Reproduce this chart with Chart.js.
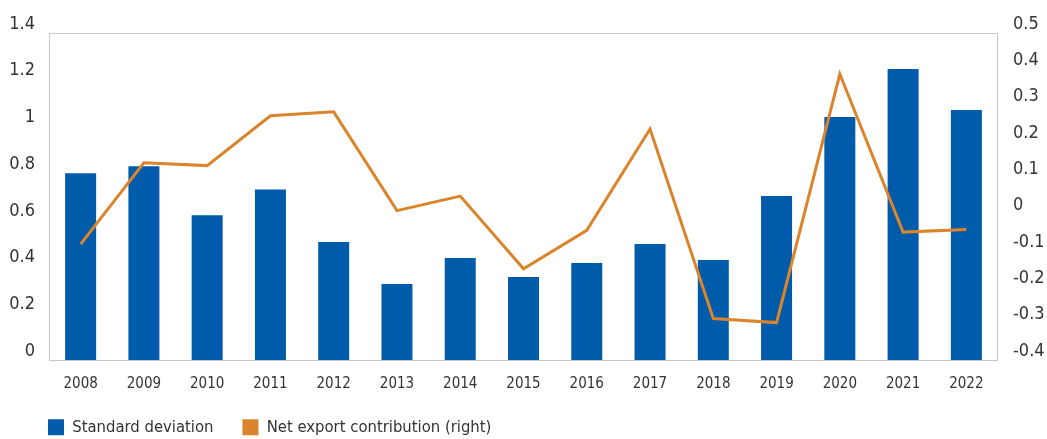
<!DOCTYPE html>
<html>
<head>
<meta charset="utf-8">
<script src="https://cdn.jsdelivr.net/npm/chart.js@4"></script>
<style>
  body { margin: 0; background: #fff; }
  #wrap { width: 1047px; height: 439px; }
</style>
</head>
<body>
<div id="wrap"><canvas id="chart" width="1047" height="439"></canvas></div>
<script>
const years = ["2008","2009","2010","2011","2012","2013","2014","2015","2016","2017","2018","2019","2020","2021","2022"];
const stdDev = [0.80, 0.83, 0.62, 0.73, 0.505, 0.325, 0.437, 0.355, 0.415, 0.497, 0.428, 0.702, 1.04, 1.246, 1.07];
const netExport = [-0.081, 0.143, 0.135, 0.272, 0.283, 0.011, 0.051, -0.149, -0.043, 0.236, -0.286, -0.297, 0.387, -0.048, -0.041];
const leftTicks = [0, 1.4, 0.2];   // min, max, step
const rightTicks = [-0.4, 0.5, 0.1];

const blue = "#005BAA";
const orange = "#DA842C";
const txt = "#333";
const fontName = "'DejaVu Sans', sans-serif";
const narrow = "condensed"; // goes into the canvas font string as font-stretch

// dotted frame round the plot area
const frame = {
    id: "frame",
    beforeDatasetsDraw(chart) {
        const a = chart.chartArea;
        const c = chart.ctx;
        c.save();
        c.strokeStyle = "#8c8c8c";
        c.lineWidth = 1;
        c.setLineDash([1, 1]);
        c.strokeRect(Math.round(a.left) + 0.5, Math.round(a.top) + 0.5, Math.round(a.right - a.left) - 1, Math.round(a.bottom - a.top));
        c.restore();
    }
};

// legend sits left-aligned under the axis, like the original
const moveLegend = {
    id: "moveLegend",
    afterLayout(chart) {
        chart.legend.left = 19;
        chart.legend.top = 390;
    }
};

let ctx = document.getElementById("chart").getContext("2d");
new Chart(ctx, {
    type: "bar",
    data: {
        labels: years,
        datasets: [
            { label: "Standard deviation", data: stdDev, backgroundColor: blue, yAxisID: "y",
              barPercentage: 0.49, categoryPercentage: 1, order: 2 },
            { type: "line", label: "Net export contribution (right)", data: netExport, yAxisID: "y1",
              borderColor: orange, backgroundColor: orange, borderWidth: 3, pointRadius: 0, tension: 0, order: 1 }
        ]
    },
    options: {
        responsive: false,
        animation: false,
        layout: { padding: { left: 0, right: 0, top: 33, bottom: 0 } },
        plugins: {
            tooltip: { enabled: false },
            legend: {
                position: "bottom",
                align: "start",
                maxHeight: 40,
                labels: {
                    boxWidth: 16, boxHeight: 16, padding: 29, color: txt,
                    font: { family: fontName, size: 16.5, weight: narrow },
                    sort: (a, b) => a.datasetIndex - b.datasetIndex,
                    generateLabels: (chart) => Chart.defaults.plugins.legend.labels.generateLabels(chart).map(l => {
                        l.lineWidth = 0;
                        return l;
                    })
                }
            }
        },
        scales: {
            x: {
                grid: { display: false, drawTicks: false },
                border: { display: false },
                ticks: { color: txt, padding: 15, font: { family: fontName, size: 15, weight: narrow } },
                afterFit: (s) => { s.height = 39; }
            },
            y: {
                position: "left",
                min: leftTicks[0], max: leftTicks[1],
                grid: { display: false, drawTicks: false },
                border: { display: false },
                ticks: { stepSize: leftTicks[2], color: txt, padding: 14, labelOffset: -9,
                         font: { family: fontName, size: 18, weight: narrow },
                         callback: (v) => String(+v.toFixed(1)) },
                afterFit: (s) => { s.width = 49; }
            },
            y1: {
                position: "right",
                min: rightTicks[0], max: rightTicks[1],
                grid: { display: false, drawTicks: false },
                border: { display: false },
                ticks: { stepSize: rightTicks[2], color: txt, padding: 15, labelOffset: -9,
                         font: { family: fontName, size: 18, weight: narrow },
                         callback: (v) => String(+v.toFixed(1)) },
                afterFit: (s) => { s.width = 49; }
            }
        }
    },
    plugins: [frame, moveLegend]
});
</script>
</body>
</html>
